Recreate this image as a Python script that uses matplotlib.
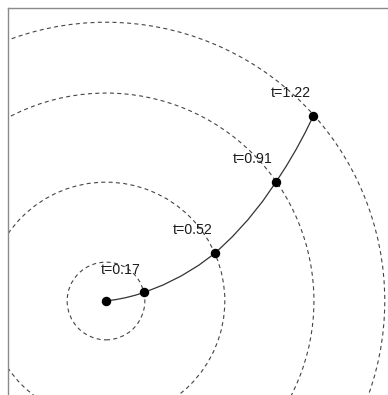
import matplotlib
matplotlib.use("Agg")
import matplotlib.pyplot as plt
from matplotlib.patches import Circle

# Arrival times at the marked points (also the radii of the wavefront circles)
times = [0.17, 0.52, 0.91, 1.22]

# Marked positions along the path (origin first)
marker_x = [0.0, 0.1663, 0.4783, 0.7440, 0.9072]
marker_y = [0.0, 0.0372, 0.2101, 0.5208, 0.8096]

# Path traced from the origin
path_x = [0.0, 0.0423, 0.0842, 0.1255, 0.1663, 0.2500, 0.3299, 0.4060,
          0.4783, 0.5527, 0.6218, 0.6855, 0.7440, 0.7891, 0.8313, 0.8707,
          0.9072]
path_y = [0.0, 0.0060, 0.0141, 0.0245, 0.0372, 0.0702, 0.1100, 0.1566,
          0.2101, 0.2810, 0.3564, 0.4363, 0.5208, 0.5906, 0.6620, 0.7350,
          0.8096]

labels = ["t=%.2f" % t for t in times]

W, H, DPI = 388, 395, 100
fig = plt.figure(figsize=(W / DPI, H / DPI), dpi=DPI)

# Axes runs off the right and bottom edges of the figure
scale = 228.5           # pixels per data unit
ox, oy = 106.0, 301.0   # origin position in pixels (from top-left)
left_px, top_px = 8.0, 8.0
right_px, bottom_px = W * 1.1, H * 1.1

ax = fig.add_axes([left_px / W, 1 - bottom_px / H,
                   (right_px - left_px) / W, (bottom_px - top_px) / H])
ax.set_xlim((left_px - ox) / scale, (right_px - ox) / scale)
ax.set_ylim((oy - bottom_px) / scale, (oy - top_px) / scale)

for side in ("right", "bottom"):
    ax.spines[side].set_visible(False)
for side in ("left", "top"):
    ax.spines[side].set_color("#8a8a8a")
    ax.spines[side].set_linewidth(1.0)
ax.set_xticks([])
ax.set_yticks([])

# Dashed wavefront circles centred on the origin
for t in times:
    ax.add_patch(Circle((marker_x[0], marker_y[0]), t, fill=False,
                        edgecolor="#444444", linewidth=0.8,
                        linestyle=(0, (3.6, 3.0)), zorder=1))

ax.plot(path_x, path_y, color="#333333", linewidth=0.9, zorder=2)
ax.plot(marker_x, marker_y, linestyle="none", marker="o", markersize=5.8,
        color="black", zorder=3)

for x, y, lab in zip(marker_x[1:], marker_y[1:], labels):
    ax.text(x - 0.1, y + 0.1, lab, ha="center", va="center",
            fontsize=10.2, family=["Liberation Sans", "DejaVu Sans"],
            color="#1a1a1a", zorder=4)

fig.savefig("out.png", dpi=DPI)
